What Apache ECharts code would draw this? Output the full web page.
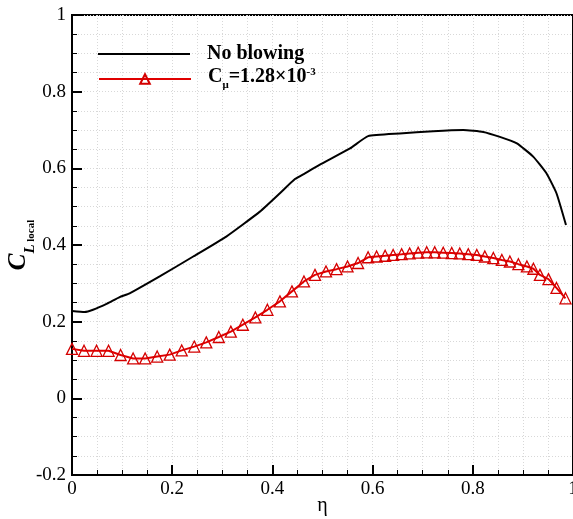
<!DOCTYPE html>
<html>
<head>
<meta charset="utf-8">
<script src="https://cdn.jsdelivr.net/npm/echarts@6/dist/echarts.min.js"></script>
<style>html,body{margin:0;padding:0;background:#fff}#c{width:573px;height:519px}</style>
</head>
<body>
<div id="c"></div>
<script>
// tick labels / axis ranges
var xTicks = [0, 0.2, 0.4, 0.6, 0.8, 1];
var yTicks = [-0.2, 0, 0.2, 0.4, 0.6, 0.8, 1];
var seriesNames = ['No blowing', 'Cμ=1.28×10-3'];

// No blowing: [eta, C_L local]
var noBlowingEta = [0, 0.025, 0.042, 0.07, 0.095, 0.115, 0.175, 0.242, 0.308, 0.375, 0.415, 0.445, 0.465, 0.494, 0.555, 0.591, 0.654, 0.721, 0.781, 0.821, 0.854, 0.888, 0.921, 0.947, 0.967, 0.986];
var noBlowingCl  = [0.228, 0.225, 0.231, 0.247, 0.264, 0.274, 0.318, 0.370, 0.422, 0.487, 0.535, 0.572, 0.587, 0.609, 0.652, 0.684, 0.691, 0.697, 0.700, 0.695, 0.682, 0.665, 0.630, 0.587, 0.535, 0.452];

// Blowing Cmu = 1.28e-3
var blowingEta = [0, 0.024, 0.049, 0.073, 0.097, 0.122, 0.146, 0.170, 0.195, 0.219, 0.244, 0.268, 0.293, 0.317, 0.341, 0.366, 0.390, 0.415, 0.439, 0.463, 0.485, 0.507, 0.528, 0.550, 0.571, 0.591, 0.608, 0.625, 0.641, 0.658, 0.674, 0.691, 0.708, 0.724, 0.741, 0.758, 0.774, 0.791, 0.808, 0.824, 0.841, 0.858, 0.874, 0.891, 0.908, 0.921, 0.934, 0.951, 0.967, 0.985];
var blowingCl  = [0.129, 0.124, 0.124, 0.124, 0.113, 0.104, 0.104, 0.109, 0.114, 0.125, 0.135, 0.146, 0.160, 0.174, 0.192, 0.211, 0.231, 0.253, 0.279, 0.305, 0.322, 0.331, 0.337, 0.344, 0.353, 0.368, 0.370, 0.372, 0.374, 0.376, 0.378, 0.380, 0.381, 0.381, 0.380, 0.379, 0.378, 0.376, 0.374, 0.370, 0.366, 0.361, 0.357, 0.350, 0.344, 0.338, 0.322, 0.311, 0.288, 0.261];

function pairs(a, b) { return a.map(function (v, i) { return [v, b[i]]; }); }

var SERIF = '"Liberation Serif", "DejaVu Serif", serif';
var chart = echarts.init(document.getElementById('c'), null, {renderer: 'canvas'});

var gridLine = {show: true, lineStyle: {color: '#d8d8d8', type: [1, 2], width: 1}};
var legendRich = {
  b: {fontFamily: SERIF, fontWeight: 'bold', fontSize: 20, color: '#000', padding: [0, 0, 4, 0], verticalAlign: 'top'},
  sub: {fontFamily: SERIF, fontWeight: 'bold', fontSize: 11, color: '#000', verticalAlign: 'bottom'},
  sup: {fontFamily: SERIF, fontWeight: 'bold', fontSize: 11, color: '#000', verticalAlign: 'top'}
};

var option = {
  animation: false,
  backgroundColor: '#fff',
  grid: {left: 72, right: 0, top: 15, bottom: 44, show: true, borderColor: '#000', borderWidth: 2,
         backgroundColor: 'transparent', containLabel: false, outerBoundsMode: 'none'},
  legend: [
    {
      data: [{name: seriesNames[0], icon: 'rect', itemStyle: {color: '#000'}}], left: 93, top: 39, orient: 'vertical',
      itemWidth: 92, itemHeight: 2,
      textStyle: {fontFamily: SERIF, fontWeight: 'bold', fontSize: 20, color: '#000', padding: [0, 0, 0, 12]}
    },
    {
      data: [seriesNames[1]], left: 93, top: 62, orient: 'vertical',
      itemWidth: 92, itemHeight: 12,
      formatter: function () { return '{b|C}{sub|μ}{b|=1.28×10}{sup|-3}'; },
      textStyle: {fontFamily: SERIF, fontWeight: 'bold', fontSize: 20, color: '#000', padding: [0, 0, 0, 12], rich: legendRich}
    }
  ],
  xAxis: {
    type: 'value', min: xTicks[0], max: xTicks[xTicks.length - 1], interval: 0.2,
    name: 'η', nameLocation: 'middle', nameGap: 21, nameMoveOverlap: false,
    nameTextStyle: {fontFamily: SERIF, fontSize: 20, color: '#000'},
    axisLine: {show: true, onZero: false, lineStyle: {color: '#000', width: 2}},
    axisTick: {show: true, inside: true, length: 10, lineStyle: {color: '#000', width: 2}},
    minorTick: {show: true, splitNumber: 4, length: 5, lineStyle: {color: '#000', width: 1}},
    axisLabel: {fontFamily: SERIF, fontSize: 19, color: '#000', margin: 5,
      formatter: function (v) { return String(+v.toFixed(1)); }},
    splitLine: gridLine,
    minorSplitLine: gridLine
  },
  yAxis: {
    type: 'value', min: yTicks[0], max: yTicks[yTicks.length - 1], interval: 0.2,
    name: '{c|C}{l|L}{s| local}', nameLocation: 'middle', nameGap: 34, nameRotate: 90, nameMoveOverlap: false,
    nameTextStyle: {
      color: '#000',
      rich: {
        c: {fontFamily: SERIF, fontWeight: 'bold', fontStyle: 'italic', fontSize: 25, color: '#000', padding: [0, 0, 7, 0], verticalAlign: 'top'},
        l: {fontFamily: SERIF, fontWeight: 'bold', fontStyle: 'italic', fontSize: 15, color: '#000', verticalAlign: 'bottom'},
        s: {fontFamily: SERIF, fontWeight: 'bold', fontSize: 11, color: '#000', verticalAlign: 'bottom', padding: [0, 0, 1, 0]}
      }
    },
    axisLine: {show: true, onZero: false, lineStyle: {color: '#000', width: 2}},
    axisTick: {show: true, inside: true, length: 10, lineStyle: {color: '#000', width: 2}},
    minorTick: {show: true, splitNumber: 4, length: 5, lineStyle: {color: '#000', width: 1}},
    axisLabel: {fontFamily: SERIF, fontSize: 19, color: '#000', margin: 6,
      formatter: function (v) { return String(+v.toFixed(1)); }},
    splitLine: gridLine,
    minorSplitLine: gridLine
  },
  series: [
    {
      name: seriesNames[0], type: 'line', data: pairs(noBlowingEta, noBlowingCl),
      symbol: 'none', smooth: 0.15,
      lineStyle: {color: '#000', width: 2},
      itemStyle: {color: '#000'}
    },
    {
      name: seriesNames[1], type: 'line', data: pairs(blowingEta, blowingCl),
      symbol: 'triangle', symbolSize: 11, showSymbol: true,
      lineStyle: {color: '#e00000', width: 2},
      itemStyle: {color: 'rgba(255,255,255,0)', borderColor: '#d40000', borderWidth: 1.3}
    }
  ]
};
chart.setOption(option);
</script>
</body>
</html>
